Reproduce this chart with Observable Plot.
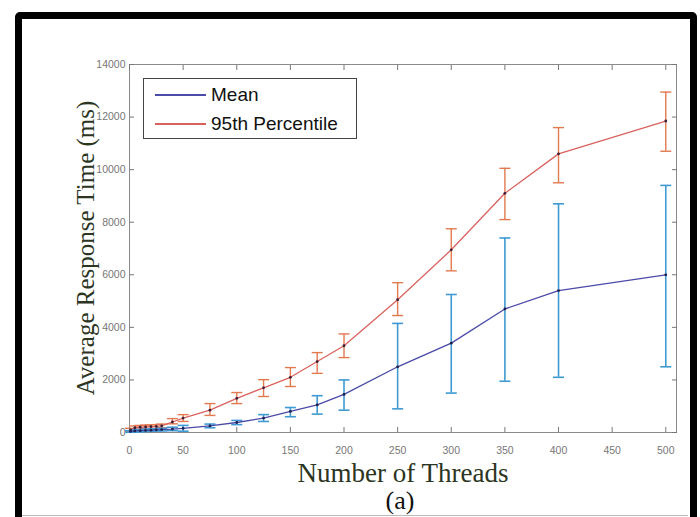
<!DOCTYPE html>
<html><head><meta charset="utf-8">
<script src="https://cdn.jsdelivr.net/npm/d3@7"></script>
<script src="https://cdn.jsdelivr.net/npm/@observablehq/plot@0.6"></script>
<style>
html,body{margin:0;padding:0;background:#fff;overflow:hidden;}
#wrap{position:relative;width:700px;height:517px;overflow:hidden;background:#fff;}
#border{position:absolute;left:15px;top:12px;width:668px;height:520px;border:7px solid #000;border-radius:5px;}
#bottomline{position:absolute;left:22px;top:515px;width:666px;height:1px;background:#bbb;}
#chart{position:absolute;left:0;top:0;}
.lbl{position:absolute;font-family:"Liberation Serif","DejaVu Serif",serif;white-space:nowrap;line-height:1;}
#xtitle{left:0;width:806px;top:460px;text-align:center;font-size:27px;color:#2c3422;}
#ptag{left:0;width:800px;top:488px;text-align:center;font-size:26px;color:#111;}
#ytitle{left:85px;top:248px;font-size:25px;color:#2c3422;transform:translate(-50%,-50%) rotate(-90deg);}
#legend{position:absolute;left:143px;top:78px;width:214px;height:61px;border:1px solid #444;background:#fff;box-sizing:border-box;font-family:"Liberation Sans",Arial,sans-serif;font-size:19px;color:#111;}
.item{position:absolute;left:0;height:24px;line-height:24px;}
.sw{position:absolute;left:11px;top:11px;width:51px;height:2px;}
.tx{position:absolute;left:67px;top:0;}
</style></head>
<body><div id="wrap">
<div id="border"></div>
<div id="bottomline"></div>
<div id="chart"></div>
<div class="lbl" id="ytitle">Average Response Time (ms)</div>
<div class="lbl" id="xtitle">Number of Threads</div>
<div class="lbl" id="ptag">(a)</div>
<div id="legend">
  <div class="item" style="top:4px;width:210px"><div class="sw" style="background:#4a4aa8"></div><div class="tx">Mean</div></div>
  <div class="item" style="top:33px;width:210px"><div class="sw" style="background:#d9625e"></div><div class="tx">95th Percentile</div></div>
</div>
</div>
<script>
const threads  = [1,5,10,15,20,25,30,40,50,75,100,125,150,175,200,250,300,350,400,500];
const meanVals = [40,60,70,80,90,100,110,130,160,250,380,550,800,1050,1450,2500,3400,4700,5400,6000];
const meanLow  = [10,20,30,40,50,60,60,70,50,180,300,420,600,700,850,900,1500,1950,2100,2500];
const meanHigh = [70,100,110,120,130,140,160,200,270,320,460,680,950,1400,2000,4150,5250,7400,8700,9400];
const p95Vals  = [100,180,200,210,220,230,250,400,550,850,1300,1700,2100,2700,3300,5050,6950,9100,10600,11850];
const p95Low   = [40,110,130,140,150,160,180,330,420,650,1100,1370,1750,2250,2850,4450,6150,8100,9500,10700];
const p95High  = [160,250,270,280,290,300,320,530,680,1100,1520,2010,2470,3040,3750,5700,7750,10050,11600,12950];
const xTicks = [0,50,100,150,200,250,300,350,400,450,500];
const yTicks = [0,2000,4000,6000,8000,10000,12000,14000];

const meanRows = threads.map((t,i)=>({t, v:meanVals[i], lo:meanLow[i], hi:meanHigh[i]}));
const p95Rows  = threads.map((t,i)=>({t, v:p95Vals[i], lo:p95Low[i], hi:p95High[i]}));

const cap = {draw(ctx){ ctx.moveTo(-5.5,0); ctx.lineTo(5.5,0); }};
const meanLine = "#4a4aa8", meanBar = "#3f9ad3", pLine = "#d9625e", pBar = "#e3794f";
const fmt = d3.format("d");

const chart = Plot.plot({
  width: 700, height: 517,
  marginLeft: 129, marginRight: 24, marginTop: 64, marginBottom: 85,
  style: {background: "transparent", color: "#555", fontFamily: "Liberation Sans, Arial, sans-serif"},
  x: {domain: [0, 510]},
  y: {domain: [0, 14000]},
  marks: [
    Plot.frame({stroke: "#8a8a8a"}),
    Plot.axisX({ticks: xTicks, tickSize: -5, tickPadding: 19, tickFormat: fmt, label: null, fontSize: 10.5, stroke: "#777", fill: "#777"}),
    Plot.axisX({anchor: "top", ticks: xTicks, tickSize: -5, tickFormat: () => "", label: null, stroke: "#777"}),
    Plot.axisY({ticks: yTicks, tickSize: -5, tickPadding: 9, tickFormat: fmt, label: null, fontSize: 10.5, stroke: "#777", fill: "#777"}),
    Plot.axisY({anchor: "right", ticks: yTicks, tickSize: -5, tickFormat: () => "", label: null, stroke: "#777"}),
    Plot.ruleX(p95Rows, {x: "t", y1: "lo", y2: "hi", stroke: pBar, strokeWidth: 1.4}),
    Plot.dot(p95Rows, {x: "t", y: "lo", symbol: cap, stroke: pBar, strokeWidth: 1.4}),
    Plot.dot(p95Rows, {x: "t", y: "hi", symbol: cap, stroke: pBar, strokeWidth: 1.4}),
    Plot.line(p95Rows, {x: "t", y: "v", stroke: pLine, strokeWidth: 1.3}),
    Plot.ruleX(meanRows, {x: "t", y1: "lo", y2: "hi", stroke: meanBar, strokeWidth: 1.6}),
    Plot.dot(meanRows, {x: "t", y: "lo", symbol: cap, stroke: meanBar, strokeWidth: 1.6}),
    Plot.dot(meanRows, {x: "t", y: "hi", symbol: cap, stroke: meanBar, strokeWidth: 1.6}),
    Plot.line(meanRows, {x: "t", y: "v", stroke: meanLine, strokeWidth: 1.3}),
    Plot.dot(p95Rows, {x: "t", y: "v", r: 1.4, fill: "#3a1f3a"}),
    Plot.dot(meanRows, {x: "t", y: "v", r: 1.4, fill: "#1f1f4a"})
  ]
});
document.getElementById("chart").appendChild(chart);
</script>
</body></html>
